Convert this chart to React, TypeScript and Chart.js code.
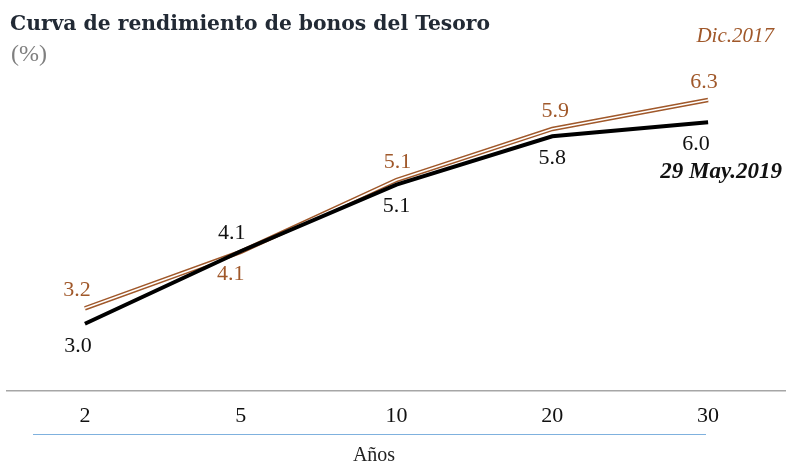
import React, { useEffect, useRef } from "react";
import { Chart, registerables } from "chart.js";

Chart.register(...registerables);

// ---- Data ----
const categories = ["2", "5", "10", "20", "30"];
const may2019 = [3.0, 4.08, 5.07, 5.79, 6.0];
const dic2017 = [3.23, 4.07, 5.14, 5.9, 6.33];

// label placement (style only)
const may2019Side = ["below", "above", "below", "below", "below"];
const dic2017Side = ["above", "below", "above", "above", "above"];
const may2019Shift = [-7, -9, 0, 0, -12];
const dic2017Shift = [-8, -10, 1, 3, -4];

const titleText = "Curva de rendimiento de bonos del Tesoro";
const unitText = "(%)";
const dicText = "Dic.2017";
const mayText = "29 May.2019";
const axisTitle = "Años";

const BROWN = "#a0582a";
const SERIF = '"Liberation Serif", "DejaVu Serif", serif';

const labelPlugin = {
  id: "valueLabels",
  afterDatasetsDraw(chart: any) {
    const ctx = chart.ctx;
    ctx.save();
    ctx.font = `22px ${SERIF}`;
    ctx.textAlign = "center";
    ctx.textBaseline = "middle";
    const specs = [
      { ds: 0, sides: may2019Side, shift: may2019Shift, color: "#111111" },
      { ds: 2, sides: dic2017Side, shift: dic2017Shift, color: BROWN },
    ];
    specs.forEach((s) => {
      const meta = chart.getDatasetMeta(s.ds);
      const data = chart.data.datasets[s.ds].data as number[];
      meta.data.forEach((pt: any, i: number) => {
        const dy = s.sides[i] === "above" ? -18 : 22;
        ctx.fillStyle = s.color;
        ctx.fillText(data[i].toFixed(1), pt.x + s.shift[i], pt.y + dy);
      });
    });
    ctx.restore();
  },
};

const decorPlugin = {
  id: "decor",
  afterDraw(chart: any) {
    const ctx = chart.ctx;
    ctx.save();
    ctx.textBaseline = "middle";
    ctx.textAlign = "left";
    ctx.fillStyle = "#222a35";
    ctx.font = `bold 20.3px "DejaVu Serif", serif`;
    ctx.fillText(titleText, 10, 25);
    ctx.fillStyle = "#7f7f7f";
    ctx.font = `24px ${SERIF}`;
    ctx.fillText(unitText, 11, 55);

    ctx.textAlign = "right";
    ctx.fillStyle = BROWN;
    ctx.font = `italic 21px ${SERIF}`;
    ctx.fillText(dicText, 774, 36);
    ctx.fillStyle = "#111111";
    ctx.font = `italic bold 23px ${SERIF}`;
    ctx.fillText(mayText, 782, 172);

    // axis underline + title
    ctx.strokeStyle = "#7fb1de";
    ctx.lineWidth = 1.2;
    ctx.beginPath();
    ctx.moveTo(33, 434.5);
    ctx.lineTo(706, 434.5);
    ctx.stroke();
    ctx.textAlign = "center";
    ctx.fillStyle = "#222222";
    ctx.font = `20px ${SERIF}`;
    ctx.fillText(axisTitle, 374, 456);
    ctx.restore();
  },
};

export default function App() {
  const ref = useRef<HTMLCanvasElement | null>(null);
  useEffect(() => {
    if (!ref.current) return;
    const chart = new Chart(ref.current, {
      type: "line",
      data: {
        labels: categories,
        datasets: [
          {
            label: "29 May.2019",
            data: may2019,
            borderColor: "#000000",
            borderWidth: 4,
            pointRadius: 0,
            tension: 0,
            order: 0,
          },
          {
            label: "Dic.2017 inner",
            data: dic2017,
            borderColor: "#ffffff",
            borderWidth: 1.6,
            pointRadius: 0,
            tension: 0,
            order: 1,
          },
          {
            label: "Dic.2017",
            data: dic2017,
            borderColor: BROWN,
            borderWidth: 4.5,
            pointRadius: 0,
            tension: 0,
            order: 2,
          },
        ],
      },
      options: {
        responsive: false,
        animation: false,
        devicePixelRatio: 1,
        layout: { padding: { top: 55, left: 7, right: 0, bottom: 0 } },
        plugins: {
          legend: { display: false },
          tooltip: { enabled: false },
          title: { display: false },
        },
        scales: {
          x: {
            offset: true,
            grid: { display: false, drawTicks: false },
            border: { display: true, color: "#a6a6a6", width: 1.5 },
            ticks: {
              color: "#111111",
              font: { family: SERIF, size: 22 },
              padding: 12,
              maxRotation: 0,
            },
            afterFit: (scale: any) => {
              scale.height = 75;
            },
          },
          y: {
            display: false,
            min: 2,
            max: 7,
          },
        },
      },
      plugins: [labelPlugin, decorPlugin],
    });
    return () => chart.destroy();
  }, []);
  return (
    <div style={{ position: "absolute", left: 0, top: 0, width: 786, height: 466 }}>
      <canvas ref={ref} width={786} height={466} style={{ display: "block" }} />
    </div>
  );
}
